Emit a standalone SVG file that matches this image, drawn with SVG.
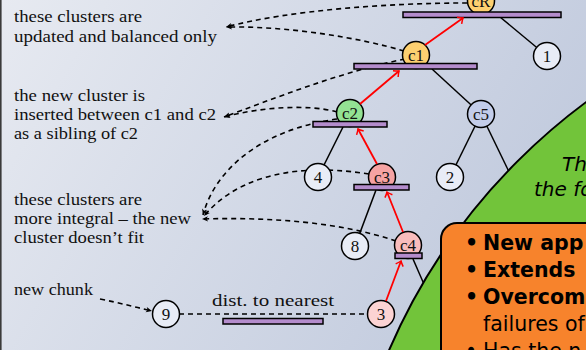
<svg xmlns="http://www.w3.org/2000/svg" width="586" height="350" viewBox="0 0 586 350">
<defs>
<linearGradient id="bg" x1="0" y1="0" x2="1" y2="0.35">
<stop offset="0" stop-color="#e7eaf1"/>
<stop offset="1" stop-color="#c2cbde"/>
</linearGradient>
<marker id="ra" viewBox="-6 -5 8 10" markerWidth="8" markerHeight="10" refX="0" refY="0" orient="auto" markerUnits="userSpaceOnUse">
<path d="M-4.5,-4 Q-1.5,-1 0,0 Q-1.5,1 -4.5,4" fill="none" stroke="#ff0000" stroke-width="1.5"/>
</marker>
<marker id="ba" viewBox="-7 -4 8 8" markerWidth="8" markerHeight="8" refX="0" refY="0" orient="auto" markerUnits="userSpaceOnUse">
<path d="M0,0 L-6,-2.6 L-4.5,0 L-6,2.6 z" fill="#000"/>
</marker>
<style>
.dash{fill:none;stroke:#000;stroke-width:1.6;stroke-dasharray:5 4}
.edge{fill:none;stroke:#000;stroke-width:1.5}
.red{fill:none;stroke:#ff0000;stroke-width:1.8;marker-end:url(#ra)}
.nd{stroke:#000;stroke-width:1.5}
.leaf{fill:#e8ecf6}
.bar{fill:#b48ccc;stroke:#000;stroke-width:1.5}
.lbl{font-family:"Liberation Serif","DejaVu Serif",serif;font-size:17px;text-anchor:middle;fill:#111}
.txt{font-family:"Liberation Serif","DejaVu Serif",serif;font-size:16.5px;fill:#111}
.bul{font-family:"DejaVu Sans",sans-serif;font-size:20.5px;fill:#000}
.b{font-weight:bold}
.it{font-family:"DejaVu Sans",sans-serif;font-size:20px;font-style:italic;fill:#000}
</style>
</defs>
<rect x="0" y="0" width="586" height="350" fill="url(#bg)"/>
<rect x="0" y="0" width="1.6" height="350" fill="#3a3a3a"/>

<g id="labels">
<text class="txt" x="14" y="22" textLength="128" lengthAdjust="spacingAndGlyphs">these clusters are</text>
<text class="txt" x="14" y="42" textLength="203" lengthAdjust="spacingAndGlyphs">updated and balanced only</text>
<text class="txt" x="14" y="101" textLength="131" lengthAdjust="spacingAndGlyphs">the new cluster is</text>
<text class="txt" x="14" y="120" textLength="202" lengthAdjust="spacingAndGlyphs">inserted between c1 and c2</text>
<text class="txt" x="14" y="139" textLength="124" lengthAdjust="spacingAndGlyphs">as a sibling of c2</text>
<text class="txt" x="14" y="205" textLength="128" lengthAdjust="spacingAndGlyphs">these clusters are</text>
<text class="txt" x="14" y="224" textLength="177" lengthAdjust="spacingAndGlyphs">more integral – the new</text>
<text class="txt" x="14" y="243" textLength="130" lengthAdjust="spacingAndGlyphs">cluster doesn’t fit</text>
<text class="txt" x="14" y="295" textLength="79" lengthAdjust="spacingAndGlyphs">new chunk</text>
<text class="txt" x="212" y="306" textLength="122" lengthAdjust="spacingAndGlyphs">dist. to nearest</text>
</g>

<g id="connectors">
<path class="dash" d="M467,3 C390,3 290,10 226,27" marker-end="url(#ba)"/>
<path class="dash" d="M404,51 C360,38 290,26 226,27" marker-end="url(#ba)"/>
<path class="dash" d="M405,59 C340,72 270,100 224,117" marker-end="url(#ba)"/>
<path class="dash" d="M337,112 C310,104 260,107 224,117" marker-end="url(#ba)"/>
<path class="dash" d="M337,119 C260,130 215,170 203,215" marker-end="url(#ba)"/>
<path class="dash" d="M369,174 C280,160 230,185 204,216" marker-end="url(#ba)"/>
<path class="dash" d="M396,241 C340,222 270,217 202,219" marker-end="url(#ba)"/>
<path class="dash" d="M100,299 C120,303 135,307 152,311" marker-end="url(#ba)"/>
<path class="dash" d="M179,314 L368,314"/>
<path class="edge" d="M500,17 L547,56"/>
<path class="edge" d="M432,69 L481,114"/>
<path class="edge" d="M481,114 L450,177"/>
<path class="edge" d="M481,114 L512,178"/>
<path class="edge" d="M343,127 L318,177"/>
<path class="edge" d="M376,190 L355,246"/>
<path class="edge" d="M413,259 L430,298"/>
</g>

<g id="cR"><circle class="nd" cx="481" cy="1" r="13.5" fill="#fdd070"/><text class="lbl" x="481" y="7">cR</text></g>
<g id="barR"><rect class="bar" x="403" y="12" width="158" height="5.5"/></g>
<g id="n1"><circle class="nd leaf" cx="547" cy="56" r="13.5"/><text class="lbl" x="547" y="62">1</text></g>
<g id="c1"><circle class="nd" cx="416" cy="55" r="13.5" fill="#fdd070"/><text class="lbl" x="416" y="61">c1</text></g>
<g id="bar1"><rect class="bar" x="354" y="63.5" width="123" height="5.5"/></g>
<g id="c5"><circle class="nd" cx="481" cy="114" r="13.5" fill="#c3cdea"/><text class="lbl" x="481" y="120">c5</text></g>
<g id="n2"><circle class="nd leaf" cx="450" cy="177" r="13.5"/><text class="lbl" x="450" y="183">2</text></g>
<g id="c2"><circle class="nd" cx="350" cy="113" r="13.5" fill="#93e293"/><text class="lbl" x="350" y="119">c2</text></g>
<g id="bar2"><rect class="bar" x="313" y="121.5" width="74" height="5.5"/></g>
<g id="n4"><circle class="nd leaf" cx="318" cy="177" r="13.5"/><text class="lbl" x="318" y="183">4</text></g>
<g id="c3"><circle class="nd" cx="382" cy="177" r="13.5" fill="#f6a3a3"/><text class="lbl" x="382" y="183">c3</text></g>
<g id="bar3"><rect class="bar" x="354" y="184.5" width="55" height="5.5"/></g>
<g id="n8"><circle class="nd leaf" cx="355" cy="246" r="13.5"/><text class="lbl" x="355" y="252">8</text></g>
<g id="c4"><circle class="nd" cx="408" cy="245" r="13.5" fill="#f9bcbc"/><text class="lbl" x="408" y="251">c4</text></g>
<g id="bar4"><rect class="bar" x="395" y="253" width="27" height="5.5"/></g>
<g id="n3"><circle class="nd" cx="381" cy="314" r="13.5" fill="#fcd3d3"/><text class="lbl" x="381" y="320">3</text></g>
<g id="n9"><circle class="nd leaf" cx="166" cy="314" r="13.5"/><text class="lbl" x="166" y="320">9</text></g>
<g id="bar9"><rect class="bar" x="223" y="318.5" width="100" height="5.5"/></g>

<g id="redarrows">
<path class="red" d="M425,45 L463,18"/>
<path class="red" d="M360,104 L399,71"/>
<path class="red" d="M377,164 L358,129"/>
<path class="red" d="M403,232 L387,192"/>
<path class="red" d="M386,301 L401,261"/>
</g>

<g id="green">
<circle cx="948" cy="592" r="609" fill="#72c43a" stroke="#000" stroke-width="2"/>
<text class="it" x="562" y="171">Th</text>
<text class="it" x="534" y="196">the fo</text>
</g>

<g id="box">
<rect x="441" y="223" width="220" height="160" rx="16" fill="#f7832c" stroke="#000" stroke-width="2"/>
<text class="bul b" x="465" y="250">•</text><text class="bul b" x="483" y="250">New app</text>
<text class="bul b" x="465" y="277">•</text><text class="bul b" x="483" y="277">Extends</text>
<text class="bul b" x="465" y="304">•</text><text class="bul b" x="483" y="304">Overcom</text>
<text class="bul" x="483" y="331">failures of</text>
<text class="bul" x="465" y="358">•</text><text class="bul" x="483" y="358">Has the n</text>
</g>
</svg>
